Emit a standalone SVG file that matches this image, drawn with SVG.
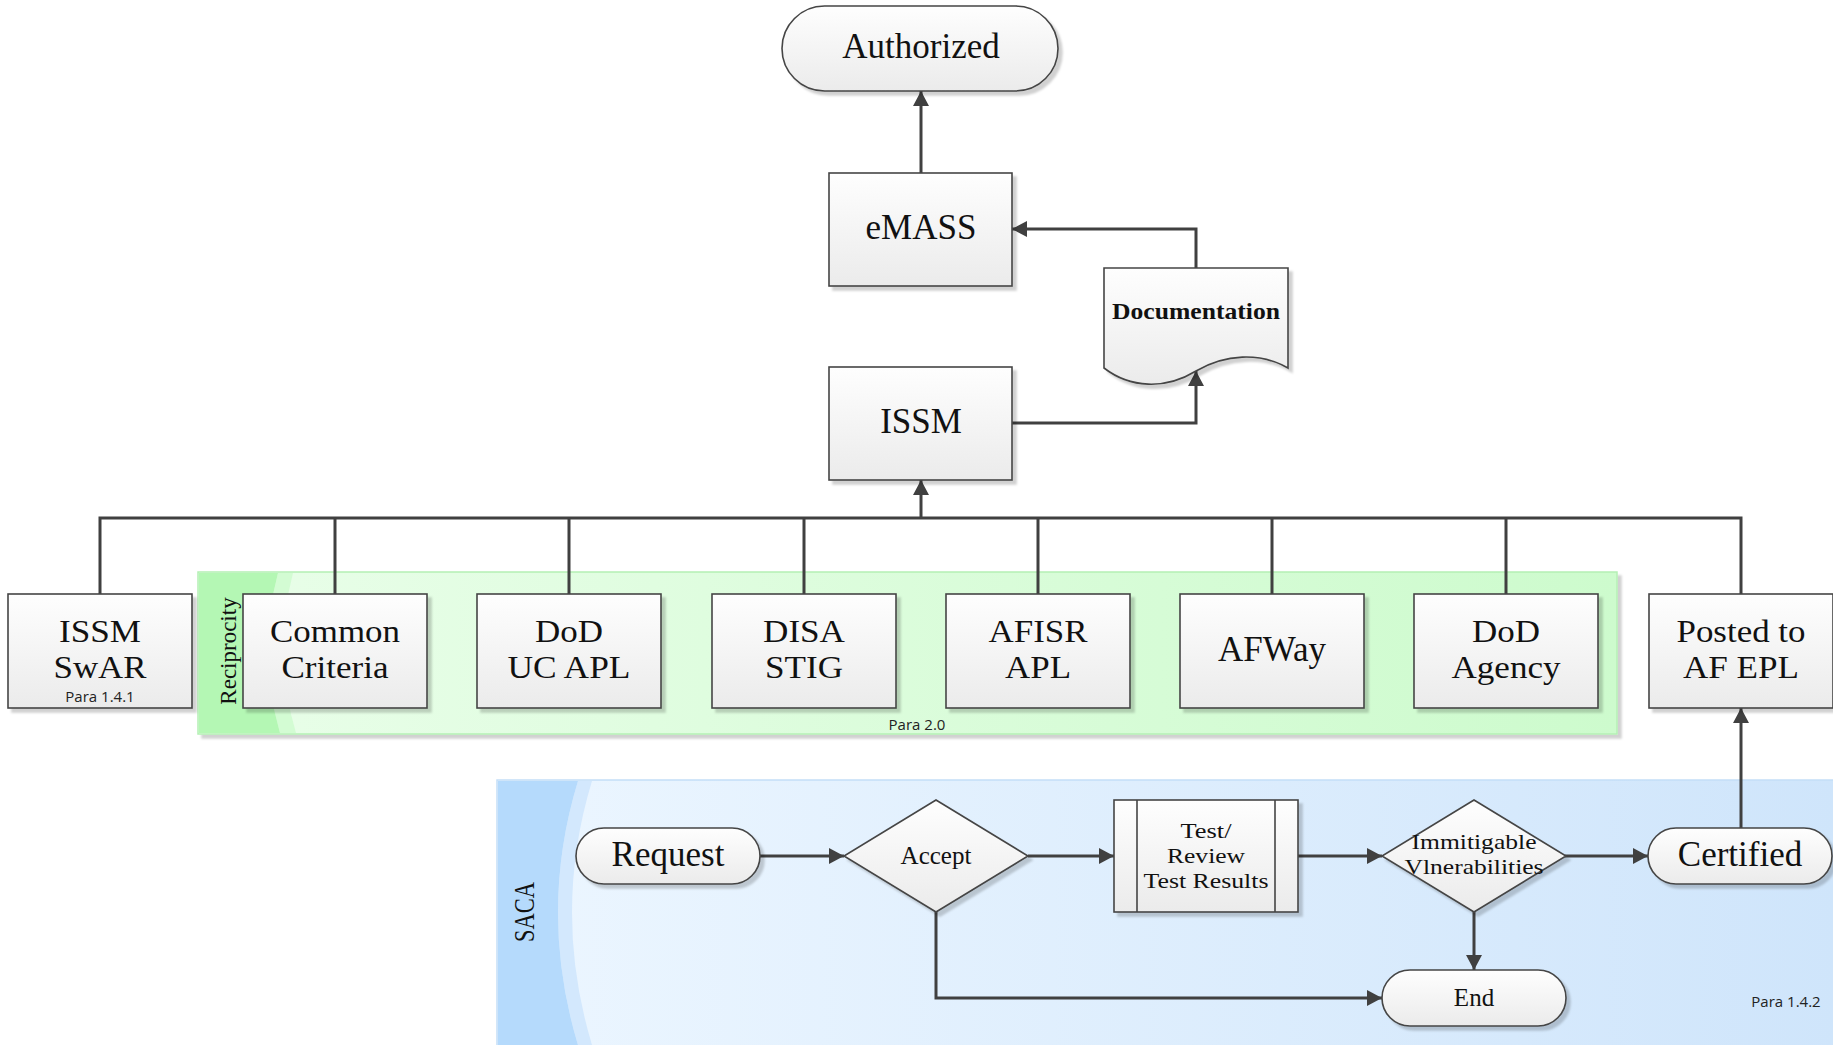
<svg xmlns="http://www.w3.org/2000/svg" width="1833" height="1045" viewBox="0 0 1833 1045">
<defs>
  <linearGradient id="gBox" x1="0" y1="0" x2="0" y2="1">
    <stop offset="0" stop-color="#fefefe"/>
    <stop offset="1" stop-color="#ebebeb"/>
  </linearGradient>
  <linearGradient id="gGreen" x1="0" y1="0" x2="1" y2="0">
    <stop offset="0" stop-color="#e9fee9"/>
    <stop offset="1" stop-color="#cdfbcd"/>
  </linearGradient>
  <linearGradient id="gBlue" x1="0" y1="0" x2="1" y2="0">
    <stop offset="0" stop-color="#ecf6ff"/>
    <stop offset="1" stop-color="#cfe5fb"/>
  </linearGradient>
  <filter id="sh" x="-10%" y="-10%" width="130%" height="130%">
    <feDropShadow dx="4" dy="4" stdDeviation="1.2" flood-color="#000" flood-opacity="0.18"/>
  </filter>
  <marker id="ah" viewBox="0 0 15 16" refX="15" refY="8" markerWidth="15" markerHeight="16" markerUnits="userSpaceOnUse" orient="auto">
    <path d="M0,0 L15,8 L0,16 z" fill="#404040"/>
  </marker>
  <style>
    .box { fill: url(#gBox); stroke: #454545; stroke-width: 1.6; filter: url(#sh); }
    .t { font-family: "Liberation Serif", "Times New Roman", serif; fill: #111; text-anchor: middle; }
    .big { font-size: 35px; }
    .two { font-size: 32px; }
    .mid { font-size: 25px; }
    .sm { font-size: 22px; }
    .para { font-family: "Open Sans", "DejaVu Sans", sans-serif; font-size: 15px; fill: #222; text-anchor: middle; }
    .c { fill: none; stroke: #404040; stroke-width: 3; }
    .ca { fill: none; stroke: #404040; stroke-width: 3; marker-end: url(#ah); }
  </style>
</defs>

<rect x="0" y="0" width="1833" height="1045" fill="#ffffff"/>

<g id="lane-reciprocity">
  <rect x="198" y="572" width="1419" height="162" fill="url(#gGreen)" stroke="#b4f0b4" stroke-width="1.5" filter="url(#sh)"/>
  <path d="M293,573 Q272,653 296,733 L280,733 Q257,653 278,573 Z" fill="#d3fcd3"/>
  <path d="M199,573 H278 Q257,653 280,733 H199 Z" fill="#b4f7b4"/>
  <text class="t" font-size="23" transform="translate(236,651) rotate(-90)">Reciprocity</text>
  <text class="para" x="917" y="730">Para 2.0</text>
</g>

<g id="lane-saca">
  <rect x="497" y="780" width="1340" height="270" fill="url(#gBlue)" stroke="#c4def8" stroke-width="1.5"/>
  <path d="M592,781 Q552,912 592,1045 L578,1045 Q538,912 578,781 Z" fill="#d3e8fd"/>
  <path d="M498,781 H578 Q538,912 578,1045 H498 Z" fill="#b5dafc"/>
  <text class="t" font-size="30" textLength="60" lengthAdjust="spacingAndGlyphs" transform="translate(534,912) rotate(-90)">SACA</text>
  <text class="para" x="1786" y="1007">Para 1.4.2</text>
</g>

<g id="connectors">
  <path class="ca" d="M921,173 V91"/>
  <path class="ca" d="M1196,268 V229 H1012"/>
  <path class="ca" d="M1012,423 H1196 V371"/>
  <path class="c" d="M100,594 V518 H1741 V594"/>
  <path class="c" d="M335,594 V518 M569,594 V518 M804,594 V518 M1038,594 V518 M1272,594 V518 M1506,594 V518"/>
  <path class="ca" d="M921,518 V480"/>
  <path class="ca" d="M760,856 H844"/>
  <path class="ca" d="M1028,856 H1114"/>
  <path class="ca" d="M1298,856 H1382"/>
  <path class="ca" d="M1565,856 H1648"/>
  <path class="ca" d="M1474,912 V970"/>
  <path class="ca" d="M936,912 V998 H1382"/>
  <path class="ca" d="M1741,828 V708"/>
</g>

<g id="authorized">
  <rect class="box" x="782" y="6" width="276" height="85" rx="42.5"/>
  <text class="t big" x="921" y="58">Authorized</text>
</g>

<g id="emass">
  <rect class="box" x="829" y="173" width="183" height="113"/>
  <text class="t big" x="921" y="239">eMASS</text>
</g>

<g id="documentation">
  <path class="box" d="M1104,268 H1288 V368 C1260,352 1225,354 1196,371 C1165,390 1130,388 1104,368 Z"/>
  <text class="t" font-size="23" font-weight="bold" textLength="168" lengthAdjust="spacingAndGlyphs" x="1196" y="319">Documentation</text>
</g>

<g id="issm">
  <rect class="box" x="829" y="367" width="183" height="113"/>
  <text class="t big" x="921" y="433">ISSM</text>
</g>

<g id="issm-swar">
  <rect class="box" x="8" y="594" width="184" height="114"/>
  <text class="t two" x="100" y="642" textLength="82" lengthAdjust="spacingAndGlyphs">ISSM</text>
  <text class="t two" x="100" y="678" textLength="93" lengthAdjust="spacingAndGlyphs">SwAR</text>
  <text class="para" x="100" y="702">Para 1.4.1</text>
</g>

<g id="common-criteria">
  <rect class="box" x="243" y="594" width="184" height="114"/>
  <text class="t two" x="335" y="642" textLength="130" lengthAdjust="spacingAndGlyphs">Common</text>
  <text class="t two" x="335" y="678" textLength="107" lengthAdjust="spacingAndGlyphs">Criteria</text>
</g>

<g id="dod-uc-apl">
  <rect class="box" x="477" y="594" width="184" height="114"/>
  <text class="t two" x="569" y="642" textLength="68" lengthAdjust="spacingAndGlyphs">DoD</text>
  <text class="t two" x="569" y="678" textLength="123" lengthAdjust="spacingAndGlyphs">UC APL</text>
</g>

<g id="disa-stig">
  <rect class="box" x="712" y="594" width="184" height="114"/>
  <text class="t two" x="804" y="642" textLength="82" lengthAdjust="spacingAndGlyphs">DISA</text>
  <text class="t two" x="804" y="678" textLength="78" lengthAdjust="spacingAndGlyphs">STIG</text>
</g>

<g id="afisr-apl">
  <rect class="box" x="946" y="594" width="184" height="114"/>
  <text class="t two" x="1038" y="642" textLength="99" lengthAdjust="spacingAndGlyphs">AFISR</text>
  <text class="t two" x="1038" y="678" textLength="66" lengthAdjust="spacingAndGlyphs">APL</text>
</g>

<g id="afway">
  <rect class="box" x="1180" y="594" width="184" height="114"/>
  <text class="t big" x="1272" y="661">AFWay</text>
</g>

<g id="dod-agency">
  <rect class="box" x="1414" y="594" width="184" height="114"/>
  <text class="t two" x="1506" y="642" textLength="68" lengthAdjust="spacingAndGlyphs">DoD</text>
  <text class="t two" x="1506" y="678" textLength="109" lengthAdjust="spacingAndGlyphs">Agency</text>
</g>

<g id="posted-af-epl">
  <rect class="box" x="1649" y="594" width="184" height="114"/>
  <text class="t two" x="1741" y="642" textLength="129" lengthAdjust="spacingAndGlyphs">Posted to</text>
  <text class="t two" x="1741" y="678" textLength="116" lengthAdjust="spacingAndGlyphs">AF EPL</text>
</g>

<g id="request">
  <rect class="box" x="576" y="828" width="184" height="56" rx="28"/>
  <text class="t big" x="668" y="866">Request</text>
</g>

<g id="accept">
  <path class="box" d="M936,800 L1028,856 L936,912 L844,856 Z"/>
  <text class="t mid" x="936" y="864">Accept</text>
</g>

<g id="test-review">
  <rect class="box" x="1114" y="800" width="184" height="112"/>
  <path d="M1137,800 V912 M1275,800 V912" stroke="#454545" stroke-width="1.6" fill="none"/>
  <text class="t sm" x="1206" y="838" textLength="51" lengthAdjust="spacingAndGlyphs">Test/</text>
  <text class="t sm" x="1206" y="863" textLength="78" lengthAdjust="spacingAndGlyphs">Review</text>
  <text class="t sm" x="1206" y="888" textLength="125" lengthAdjust="spacingAndGlyphs">Test Results</text>
</g>

<g id="immitigable">
  <path class="box" d="M1474,800 L1566,856 L1474,912 L1382,856 Z"/>
  <text class="t sm" x="1474" y="849" textLength="125" lengthAdjust="spacingAndGlyphs">Immitigable</text>
  <text class="t sm" x="1474" y="874" textLength="139" lengthAdjust="spacingAndGlyphs">Vlnerabilities</text>
</g>

<g id="certified">
  <rect class="box" x="1648" y="828" width="184" height="56" rx="28"/>
  <text class="t big" x="1740" y="866">Certified</text>
</g>

<g id="end">
  <rect class="box" x="1382" y="970" width="184" height="56" rx="28"/>
  <text class="t mid" x="1474" y="1006">End</text>
</g>
</svg>
